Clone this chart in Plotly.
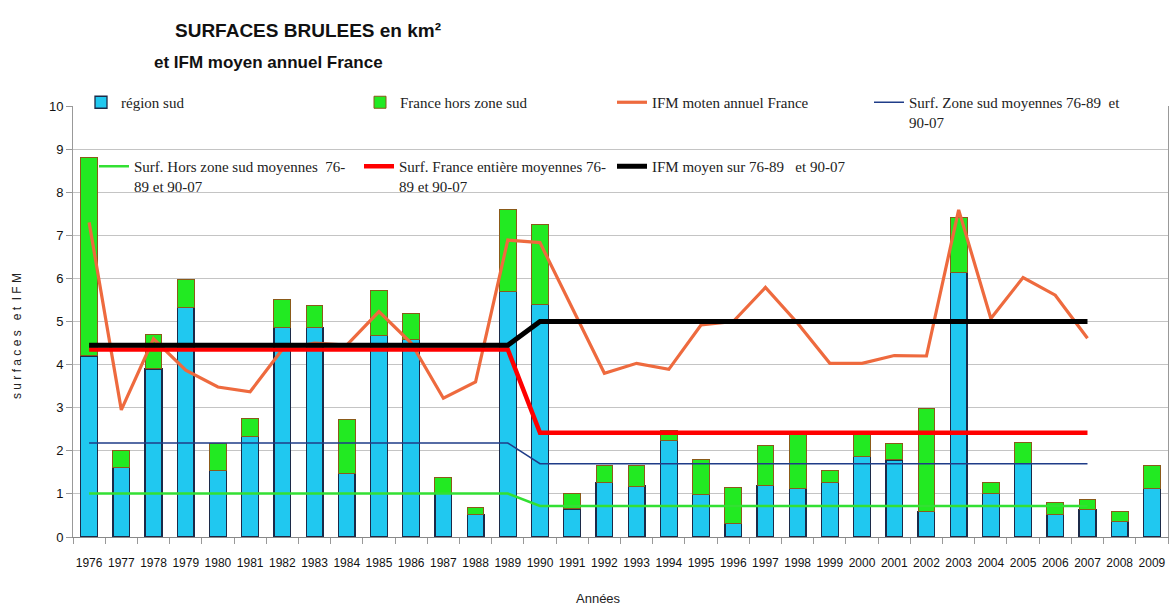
import plotly.graph_objects as go

W, H = 1172, 607
ML, MR, MT, MB = 73, 4, 106, 70

years = ["1976", "1977", "1978", "1979", "1980", "1981", "1982", "1983", "1984", "1985",
         "1986", "1987", "1988", "1989", "1990", "1991", "1992", "1993", "1994", "1995",
         "1996", "1997", "1998", "1999", "2000", "2001", "2002", "2003", "2004", "2005",
         "2006", "2007", "2008", "2009"]

region_sud = [4.20, 1.62, 3.90, 5.33, 1.54, 2.34, 4.86, 4.86, 1.48, 4.67,
              4.59, 1.01, 0.53, 5.69, 5.40, 0.65, 1.26, 1.18, 2.25, 0.99,
              0.32, 1.20, 1.13, 1.26, 1.86, 1.79, 0.59, 6.13, 1.01, 1.71,
              0.53, 0.64, 0.37, 1.12]

hors_zone_sud = [4.61, 0.38, 0.79, 0.65, 0.63, 0.41, 0.64, 0.50, 1.25, 1.04,
                 0.60, 0.38, 0.15, 1.90, 1.86, 0.35, 0.41, 0.49, 0.23, 0.81,
                 0.83, 0.93, 1.24, 0.28, 0.54, 0.37, 2.40, 1.29, 0.26, 0.48,
                 0.27, 0.22, 0.22, 0.53]

# lines cover 1976-2007
line_years = years[:32]

ifm_annuel = [7.30, 2.95, 4.60, 3.87, 3.48, 3.37, 4.35, 4.50, 4.45, 5.23,
              4.50, 3.22, 3.60, 6.89, 6.83, 5.30, 3.80, 4.03, 3.89, 4.92,
              5.00, 5.79, 4.96, 4.03, 4.03, 4.21, 4.20, 7.59, 5.07, 6.02,
              5.61, 4.61]

moy_zone_sud = [2.18, 2.18, 2.18, 2.18, 2.18, 2.18, 2.18, 2.18, 2.18, 2.18,
                2.18, 2.18, 2.18, 2.18, 1.70, 1.70, 1.70, 1.70, 1.70, 1.70,
                1.70, 1.70, 1.70, 1.70, 1.70, 1.70, 1.70, 1.70, 1.70, 1.70,
                1.70, 1.70]

moy_hors_zone = [1.01, 1.01, 1.01, 1.01, 1.01, 1.01, 1.01, 1.01, 1.01, 1.01,
                 1.01, 1.01, 1.01, 1.01, 0.72, 0.72, 0.72, 0.72, 0.72, 0.72,
                 0.72, 0.72, 0.72, 0.72, 0.72, 0.72, 0.72, 0.72, 0.72, 0.72,
                 0.72, 0.72]

moy_france = [4.35, 4.35, 4.35, 4.35, 4.35, 4.35, 4.35, 4.35, 4.35, 4.35,
              4.35, 4.35, 4.35, 4.35, 2.42, 2.42, 2.42, 2.42, 2.42, 2.42,
              2.42, 2.42, 2.42, 2.42, 2.42, 2.42, 2.42, 2.42, 2.42, 2.42,
              2.42, 2.42]

ifm_moyen = [4.45, 4.45, 4.45, 4.45, 4.45, 4.45, 4.45, 4.45, 4.45, 4.45,
             4.45, 4.45, 4.45, 4.45, 5.00, 5.00, 5.00, 5.00, 5.00, 5.00,
             5.00, 5.00, 5.00, 5.00, 5.00, 5.00, 5.00, 5.00, 5.00, 5.00,
             5.00, 5.00]

y_ticks = [0, 1, 2, 3, 4, 5, 6, 7, 8, 9, 10]

SANS = "Liberation Sans, Arial, sans-serif"
SERIF = "Liberation Serif, Times New Roman, serif"

fig = go.Figure()
fig.add_trace(go.Bar(x=years, y=region_sud, name="région sud", legend="legend",
                     marker=dict(color="#20C8F0", line=dict(color="#1c2a48", width=1.3))))
fig.add_trace(go.Bar(x=years, y=hors_zone_sud, name="France hors zone sud", legend="legend2",
                     marker=dict(color="#22EA22", line=dict(color="#8a5a1a", width=1))))
fig.add_trace(go.Scatter(x=line_years, y=ifm_annuel, mode="lines", name="IFM moten annuel France",
                         legend="legend3", line=dict(color="#EE6A3E", width=3.2)))
fig.add_trace(go.Scatter(x=line_years, y=moy_zone_sud, mode="lines",
                         name="Surf. Zone sud moyennes 76-89  et<br>90-07",
                         legend="legend4", line=dict(color="#1F3C88", width=1.5)))
fig.add_trace(go.Scatter(x=line_years, y=moy_hors_zone, mode="lines",
                         name="Surf. Hors zone sud moyennes  76-<br>89 et 90-07",
                         legend="legend5", line=dict(color="#33E033", width=2.5)))
fig.add_trace(go.Scatter(x=line_years, y=moy_france, mode="lines",
                         name="Surf. France entière moyennes 76-<br>89 et 90-07",
                         legend="legend6", line=dict(color="#FF0000", width=4.5)))
fig.add_trace(go.Scatter(x=line_years, y=ifm_moyen, mode="lines",
                         name="IFM moyen sur 76-89   et 90-07",
                         legend="legend7", line=dict(color="#000000", width=5)))

pw = W - ML - MR
ph = H - MT - MB

def px_x(p):
    return (p - ML) / pw

def px_y(p):
    return (H - MB - p) / ph

def leg(x_px, y_px):
    return dict(x=px_x(x_px), y=px_y(y_px), xref="paper", yref="paper",
                xanchor="left", yanchor="top", bgcolor="rgba(0,0,0,0)",
                font=dict(family=SERIF, size=15, color="#222"), valign="top")

layout_legends = dict(
    legend=leg(121 - 40, 86),
    legend2=leg(400 - 40, 86),
    legend3=leg(652 - 40, 86),
    legend4=leg(909 - 40, 86),
    legend5=leg(134 - 40, 150),
    legend6=leg(399 - 40, 150),
    legend7=leg(652 - 40, 150),
)

fig.update_layout(
    width=W, height=H,
    margin=dict(l=ML, r=MR, t=MT, b=MB, autoexpand=False),
    barmode="stack", bargap=0.48,
    plot_bgcolor="white", paper_bgcolor="white",
    showlegend=True,
    **layout_legends,
    xaxis=dict(type="category", categoryorder="array", categoryarray=years,
               showgrid=False, showline=True, linecolor="#888", linewidth=1,
               ticks="outside", tickson="boundaries", ticklen=6, tickcolor="#999",
               tickangle=0, ticklabelstandoff=15,
               tickfont=dict(family=SANS, size=12, color="#111")),
    yaxis=dict(range=[0, 10], tickvals=y_ticks, showgrid=True, gridcolor="#C4C4C4",
               gridwidth=1, showline=True, linecolor="#999", mirror=True,
               ticks="outside", ticklen=6, tickcolor="#999", zeroline=False,
               tickfont=dict(family=SANS, size=13, color="#111")),
    annotations=[
        dict(text="<b>SURFACES BRULEES en km²</b>", x=px_x(173), y=px_y(30),
             xref="paper", yref="paper", xanchor="left", yanchor="middle", showarrow=False,
             font=dict(family=SANS, size=19, color="#111")),
        dict(text="<b>et IFM moyen annuel France</b>", x=px_x(152), y=px_y(62),
             xref="paper", yref="paper", xanchor="left", yanchor="middle", showarrow=False,
             font=dict(family=SANS, size=17, color="#111")),
        dict(text="s u r f a c e s   e t  I F M", x=px_x(17), y=px_y(336),
             xref="paper", yref="paper", xanchor="center", yanchor="middle", showarrow=False,
             textangle=-90, font=dict(family=SANS, size=12, color="#222")),
        dict(text="Années", x=px_x(598), y=px_y(598),
             xref="paper", yref="paper", xanchor="center", yanchor="middle", showarrow=False,
             font=dict(family=SANS, size=13, color="#222")),
    ],
)

fig.write_html("out.html", config={"displayModeBar": False},
               post_script="document.body.style.margin='0';document.body.style.padding='0';")
